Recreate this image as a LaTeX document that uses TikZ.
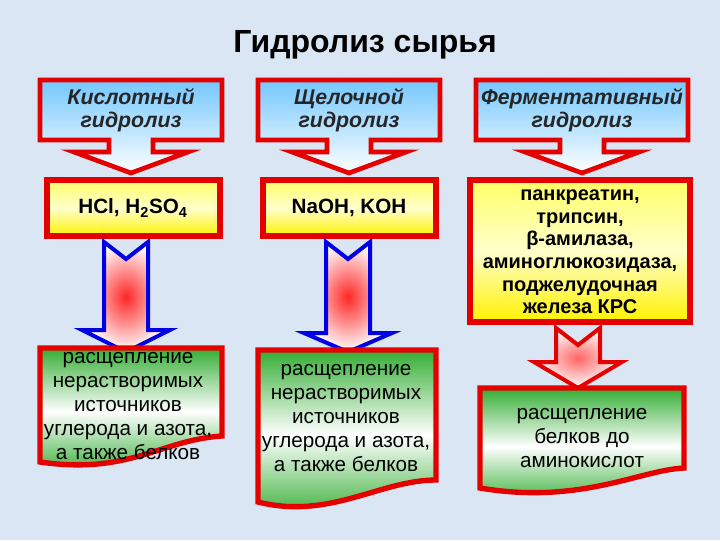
\documentclass[tikz,border=0pt]{standalone}
\usepackage{fontspec}
\setmainfont{Liberation Sans}
\usetikzlibrary{shadings}
\definecolor{bg}{RGB}{218,230,244}
\begin{document}
\begin{tikzpicture}[x=0.75pt,y=-0.75pt,
 hdr/.style={draw=red!90!black,line width=3.5pt,line join=miter,top color=cyan!60!blue!55,bottom color=white},
 ybox/.style={draw=red!90!black,line width=4pt,top color=yellow!60!white,bottom color=yellow!90!orange,middle color=white!80!yellow},
 garrow/.style={draw=blue!90!black,line width=3pt,line join=miter,inner color=red!85,outer color=white},
 parrow/.style={draw=red!90!black,line width=3pt,line join=miter,inner color=red!60,outer color=white},
 gbox/.style={draw=red!90!black,line width=4pt,top color=green!60!black!80,bottom color=green!60!black!80,middle color=white},
 ht/.style={font=\fontsize{16}{17}\selectfont\bfseries\itshape,align=center,text=black!85},
 bt/.style={font=\fontsize{15.5}{17.5}\selectfont\bfseries,align=center},
 gt/.style={font=\fontsize{15.5}{18}\selectfont,align=center}]
\fill[bg] (0,0) rectangle (720,540);
\useasboundingbox (0,0) rectangle (720,540);
\node[font=\fontsize{24}{26}\selectfont\bfseries] (title) at (365,45) {Гидролиз сырья};
% headers
\def\hdrshape#1#2#3{\path[hdr] (#1,80) -- (#2,80) -- (#2,140) -- ({(#1+#2)/2+22},140) -- ({(#1+#2)/2+22},152) -- ({(#1+#2)/2+57},152) -- (#3,173) -- ({(#1+#2)/2-57},152) -- ({(#1+#2)/2-22},152) -- ({(#1+#2)/2-22},140) -- (#1,140) -- cycle;}
\hdrshape{40}{222}{131}
\hdrshape{258}{440}{349}
\hdrshape{476}{688}{582}
\node[ht] (h1) at (131,110) {Кислотный\\гидролиз};
\node[ht] (h2) at (349,110) {Щелочной\\гидролиз};
\node[ht] (h3) at (582,110) {Ферментативный\\гидролиз};
% yellow boxes
\path[ybox] (47,180) rectangle (220,236);
\path[ybox] (263,180) rectangle (436,236);
\path[ybox] (470,180) rectangle (690,322);
\node[bt] (b1) at (133,208) {HCl, H\textsubscript{2}SO\textsubscript{4}};
\node[bt] (b2) at (349,208) {NaOH, KOH};
\node[bt,font=\fontsize{15}{17}\selectfont\bfseries] (b3) at (580,252) {панкреатин,\\трипсин,\\β-амилаза,\\аминоглюкозидаза,\\поджелудочная\\железа КРС};
% arrows
\def\barrow#1#2#3#4#5{\path[#5] ({#1-22},#2) -- (#1,{#2+17}) -- ({#1+22},#2) -- ({#1+22},#3) -- ({#1+44},#3) -- (#1,#4) -- ({#1-44},#3) -- ({#1-22},#3) -- cycle;}
\barrow{126}{242}{330}{352}{garrow}
\barrow{348}{242}{333}{352}{garrow}
\barrow{578}{328}{362}{388}{parrow}
% green boxes
\path[gbox] (40,348) -- (222,348) -- (222,436) .. controls (160,440) and (130,475) .. (40,462) -- cycle;
\path[gbox] (258,350) -- (436,350) -- (436,480) .. controls (380,480) and (330,520) .. (258,502) -- cycle;
\path[gbox] (480,388) -- (684,388) -- (684,468) .. controls (640,470) and (580,505) .. (480,488) -- cycle;
\node[gt] (g1) at (128,406) {расщепление\\нерастворимых\\источников\\углерода и азота,\\а также белков};
\node[gt] (g2) at (346,418) {расщепление\\нерастворимых\\источников\\углерода и азота,\\а также белков};
\node[gt] (g3) at (582,438) {расщепление\\белков до\\аминокислот};
\end{tikzpicture}
\end{document}
